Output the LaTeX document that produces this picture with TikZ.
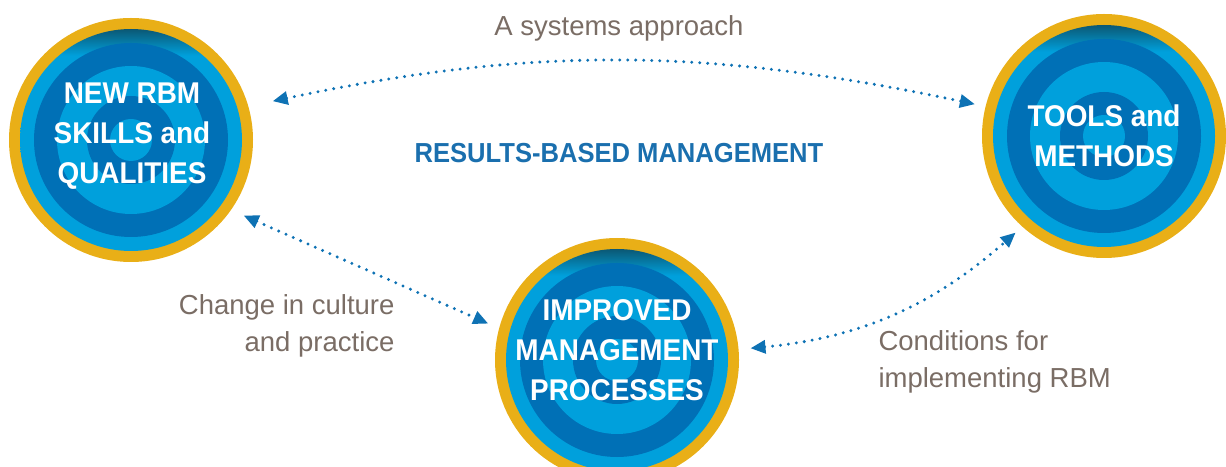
\documentclass[tikz,border=0pt]{standalone}
\usepackage{fontspec}
\setmainfont{Liberation Sans}
\newfontfamily\headfont[FakeStretch=0.93]{Liberation Sans}
\usetikzlibrary{arrows.meta}

\definecolor{gold}{HTML}{E9AF17}
\definecolor{cyanA}{HTML}{00A0DC}
\definecolor{blueA}{HTML}{0070B6}
\definecolor{shadeA}{HTML}{0B5874}
\definecolor{linkblue}{HTML}{0E72B4}
\definecolor{greytxt}{HTML}{7A6D65}
\definecolor{rbmblue}{HTML}{1A6FAE}

\pgfdeclareverticalshading{ringtop}{100bp}{color(0bp)=(cyanA); color(69bp)=(cyanA); color(75bp)=(shadeA); color(100bp)=(shadeA)}

% concentric rings of one hub
\newcommand\drawtarget[1]{%
  \fill[gold] (#1) circle (122pt);
  \shade[shading=ringtop] (#1) circle (111pt);
  \fill[blueA] (#1) circle (97pt);
  \fill[cyanA] (#1) circle (74pt);
  \fill[blueA] (#1) circle (44pt);
  \fill[cyanA] (#1) circle (21pt);}

\tikzset{
  hub/.style={circle, minimum size=244pt, inner sep=0pt, outer sep=0pt},
  hubtext/.style={text=white, align=center, font=\headfont\bfseries\fontsize{30}{40}\selectfont},
  note/.style={text=greytxt, font=\fontsize{27.5}{37.5}\selectfont},
  link/.style={linkblue, line width=3.3pt, line cap=round, dash pattern=on 0pt off 8pt,
    {Triangle[length=15pt,width=13pt]}-{Triangle[length=15pt,width=13pt]}}
}

\begin{document}
\begin{tikzpicture}[x=1pt, y=1pt]
  \useasboundingbox (0,0) rectangle (1226,466);

  \drawtarget{131,326}
  \drawtarget{1104,330}
  \drawtarget{617,106}

  \node[hub] (skills) at (131,326) {};
  \node[hub] (tools) at (1104,330) {};
  \node[hub] (process) at (617,106) {};

  \node[hubtext] (skillstext) at (132,330) {NEW RBM\\SKILLS and\\QUALITIES};
  \node[hubtext] (toolstext) at (1104,330) {TOOLS and\\METHODS};
  \node[hubtext] (processtext) at (617,116) {IMPROVED\\MANAGEMENT\\PROCESSES};

  \node[text=rbmblue, font=\headfont\bfseries\fontsize{27.5}{33}\selectfont] (rbm) at (619,313) {RESULTS-BASED MANAGEMENT};

  \node[note] (systems) at (619,438) {A systems approach};
  \node[note, anchor=east, align=right] (culture) at (398,140) {Change in culture\\and practice};
  \node[note, anchor=west, align=left] (conditions) at (875,104) {Conditions for\\implementing RBM};

  \draw[link, shorten <=25pt, shorten >=11pt] (skills.16) to[bend left=12] (tools.166);
  \draw[link, shorten <=14pt, shorten >=12pt] (skills.-35) to (process.165);
  \draw[link, shorten <=12pt, shorten >=9pt] (process.5) to[bend right=18] (tools.228);
\end{tikzpicture}
\end{document}
